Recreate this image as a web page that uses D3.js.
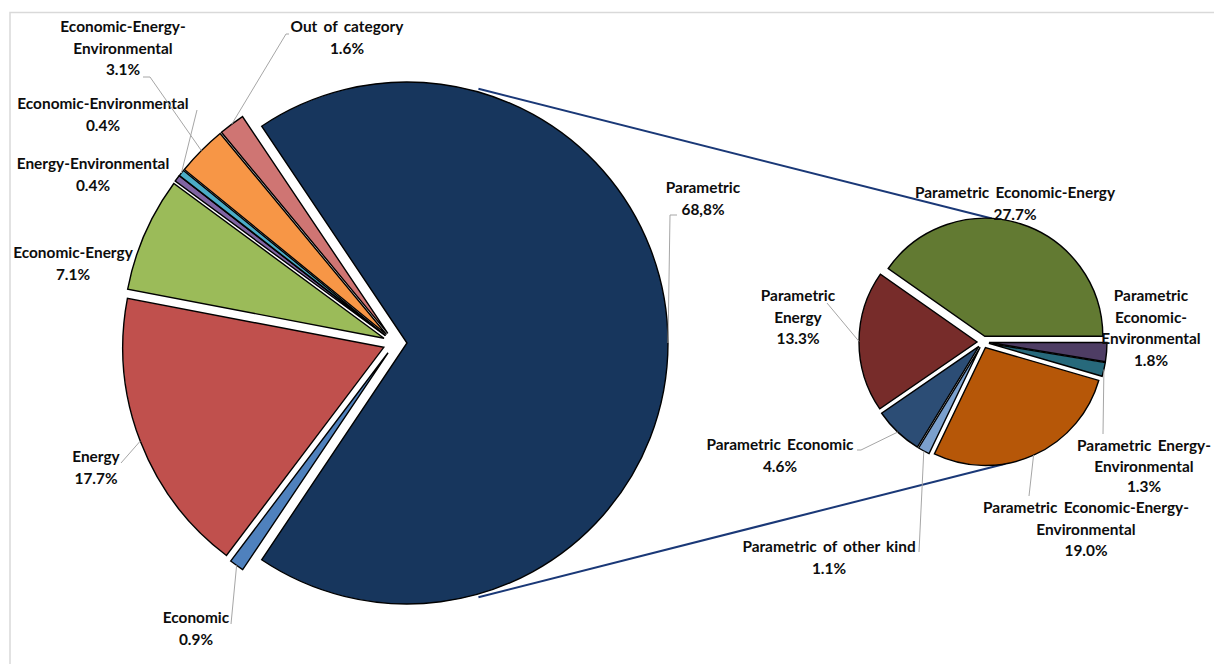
<!DOCTYPE html>
<html>
<head>
<meta charset="utf-8">
<script src="https://cdn.jsdelivr.net/npm/d3@7"></script>
<style>
  html, body { margin: 0; padding: 0; background: #fff; }
  svg { display: block; font-family: Lato, "Open Sans", sans-serif; }
</style>
</head>
<body>
<svg id="chart" width="1214" height="664"></svg>
<script>
// Share of studies by kind of analysis (percent of all studies)
const mainCategories = ["Economic", "Energy", "Economic-Energy", "Energy-Environmental",
  "Economic-Environmental", "Economic-Energy-Environmental", "Out of category", "Parametric"];
const mainValues = [0.9, 17.7, 7.1, 0.4, 0.4, 3.1, 1.6, 68.8];
const mainValueLabels = ["0.9%", "17.7%", "7.1%", "0.4%", "0.4%", "3.1%", "1.6%", "68,8%"];
const mainColors = ["#4f81bd", "#c0504d", "#9bbb59", "#8064a2", "#4bacc6", "#f79646", "#cf7573", "#17365d"];

// Breakdown of the parametric studies (percent of all studies, sums to the Parametric slice)
const subCategories = ["Parametric Economic-Energy", "Parametric Economic-Environmental",
  "Parametric Energy-Environmental", "Parametric Economic-Energy-Environmental",
  "Parametric of other kind", "Parametric Economic", "Parametric Energy"];
const subValues = [27.7, 1.8, 1.3, 19.0, 1.1, 4.6, 13.3];
const subValueLabels = ["27.7%", "1.8%", "1.3%", "19.0%", "1.1%", "4.6%", "13.3%"];
const subColors = ["#627a32", "#4e3d64", "#27697b", "#b65708", "#7ba0cd", "#2c4d75", "#772c2a"];

// Label placement (text block position, line breaks, leader start)
const mainLabelLayout = [
  { lines: ["Economic"], x: 196, y: 618, lead: [231, 624] },
  { lines: ["Energy"], x: 96, y: 457, lead: [121, 463] },
  { lines: ["Economic-Energy"], x: 73, y: 253, lead: null },
  { lines: ["Energy-Environmental"], x: 93, y: 164, lead: null },
  { lines: ["Economic-Environmental"], x: 103, y: 104, lead: [197, 110] },
  { lines: ["Economic-Energy-", "Environmental"], x: 123, y: 27, lead: [143, 77], elbow: 7 },
  { lines: ["Out of category"], x: 347, y: 27, lead: [289, 34], elbow: -3 },
  { lines: ["Parametric"], x: 703, y: 188, lead: [677, 215], elbow: -7 }
];
const subLabelLayout = [
  { lines: ["Parametric Economic-Energy"], x: 1015, y: 193, lead: null },
  { lines: ["Parametric", "Economic-", "Environmental"], x: 1151, y: 296, lead: null },
  { lines: ["Parametric Energy-", "Environmental"], x: 1144, y: 446, lead: [1103, 434], lineH: 20.5 },
  { lines: ["Parametric Economic-Energy-", "Environmental"], x: 1086, y: 508, lead: [1029, 496] },
  { lines: ["Parametric of other kind"], x: 829, y: 547, lead: [919, 552] },
  { lines: ["Parametric Economic"], x: 780, y: 445, lead: [857, 450], elbow: 4 },
  { lines: ["Parametric", "Energy"], x: 798, y: 296, lead: [827, 303] }
];

const svg = d3.select("#chart");
const W = 1214, H = 664;

// chart area border
svg.append("rect")
  .attr("x", 10).attr("y", 12.5)
  .attr("width", W + 20).attr("height", H + 20)
  .attr("fill", "none").attr("stroke", "#d9d9d9").attr("stroke-width", 1.5);

const mainPie = { cx: 395, cy: 343, r: 261, explode: 12 };
const subPie = { cx: 983, cy: 342, r: 118, explode: 6 };

// main pie: the Parametric slice is centred on the right-hand side
const parShare = mainValues[mainValues.length - 1] / d3.sum(mainValues);
const mainStart = Math.PI / 2 - 2 * Math.PI + Math.PI * parShare;
const mainArcs = d3.pie().sort(null).value(d => d)
  .startAngle(mainStart).endAngle(mainStart + 2 * Math.PI)(mainValues);

// second pie: the Economic-Energy slice ends at three o'clock, others follow clockwise
const subStart = Math.PI / 2 - 2 * Math.PI * subValues[0] / d3.sum(subValues);
const subArcs = d3.pie().sort(null).value(d => d)
  .startAngle(subStart).endAngle(subStart + 2 * Math.PI)(subValues);

function mid(a) { return (a.startAngle + a.endAngle) / 2; }
function offset(a, e) { const m = mid(a); return [Math.sin(m) * e, -Math.cos(m) * e]; }
function polar(cx, cy, r, ang) { return [cx + Math.sin(ang) * r, cy - Math.cos(ang) * r]; }

function drawPie(cfg, arcs, colors, cls) {
  const arcGen = d3.arc().innerRadius(0).outerRadius(cfg.r);
  const g = svg.append("g").attr("class", cls)
    .attr("transform", `translate(${cfg.cx},${cfg.cy})`);
  g.selectAll("path").data(arcs).join("path")
    .attr("transform", d => { const o = offset(d, cfg.explode); return `translate(${o[0]},${o[1]})`; })
    .attr("d", arcGen)
    .attr("fill", (d, i) => colors[i])
    .attr("stroke", "#000")
    .attr("stroke-width", 1.4)
    .attr("stroke-linejoin", "miter");
}

// series lines joining the Parametric slice with the second pie
(function seriesLines() {
  const par = mainArcs[mainArcs.length - 1];
  const po = offset(par, mainPie.explode);
  const pcx = mainPie.cx + po[0], pcy = mainPie.cy + po[1];
  const spread = (par.endAngle - par.startAngle);
  const topMain = polar(pcx, pcy, mainPie.r + 3, Math.PI / 2 - spread * 0.3);
  const botMain = polar(pcx, pcy, mainPie.r + 3, Math.PI / 2 + spread * 0.3);
  const firstSub = subArcs[0];
  const fo = offset(firstSub, subPie.explode);
  const topSub = polar(subPie.cx + fo[0], subPie.cy + fo[1], subPie.r, 0.06);
  const bigSub = subArcs[3];
  const bo = offset(bigSub, subPie.explode);
  const botSub = polar(subPie.cx + bo[0], subPie.cy + bo[1], subPie.r, Math.PI - 0.17);
  svg.append("g").selectAll("line")
    .data([[topMain, topSub], [botMain, botSub]]).join("line")
    .attr("x1", d => d[0][0]).attr("y1", d => d[0][1])
    .attr("x2", d => d[1][0]).attr("y2", d => d[1][1])
    .attr("stroke", "#1a3877").attr("stroke-width", 2);
})();

drawPie(mainPie, mainArcs, mainColors, "main-pie");
drawPie(subPie, subArcs, subColors, "sub-pie");

// leader lines and data labels
function drawLabels(cfg, arcs, layout, valueLabels) {
  const lg = svg.append("g");
  arcs.forEach((a, i) => {
    const L = layout[i];
    const lineH = L.lineH || 21.5;
    if (L.lead) {
      const o = offset(a, cfg.explode);
      const t = polar(cfg.cx + o[0], cfg.cy + o[1], cfg.r, mid(a));
      const pts = [L.lead];
      if (L.elbow) pts.push([L.lead[0] + L.elbow, L.lead[1]]);
      pts.push(t);
      lg.append("path")
        .attr("d", d3.line()(pts))
        .attr("fill", "none").attr("stroke", "#a6a6a6").attr("stroke-width", 1);
    }
    const lines = L.lines.concat([valueLabels[i]]);
    const txt = lg.append("text")
      .attr("x", L.x).attr("y", L.y)
      .attr("text-anchor", "middle")
      .attr("font-size", "15.4px").attr("font-weight", "bold")
      .attr("word-spacing", "2.5px")
      .attr("fill", "#0d0d0d");
    lines.forEach((s, k) => {
      txt.append("tspan").attr("x", L.x).attr("y", L.y + k * lineH).attr("dy", "0.35em").text(s);
    });
  });
}
drawLabels(mainPie, mainArcs, mainLabelLayout, mainValueLabels);
drawLabels(subPie, subArcs, subLabelLayout, subValueLabels);
</script>
</body>
</html>
